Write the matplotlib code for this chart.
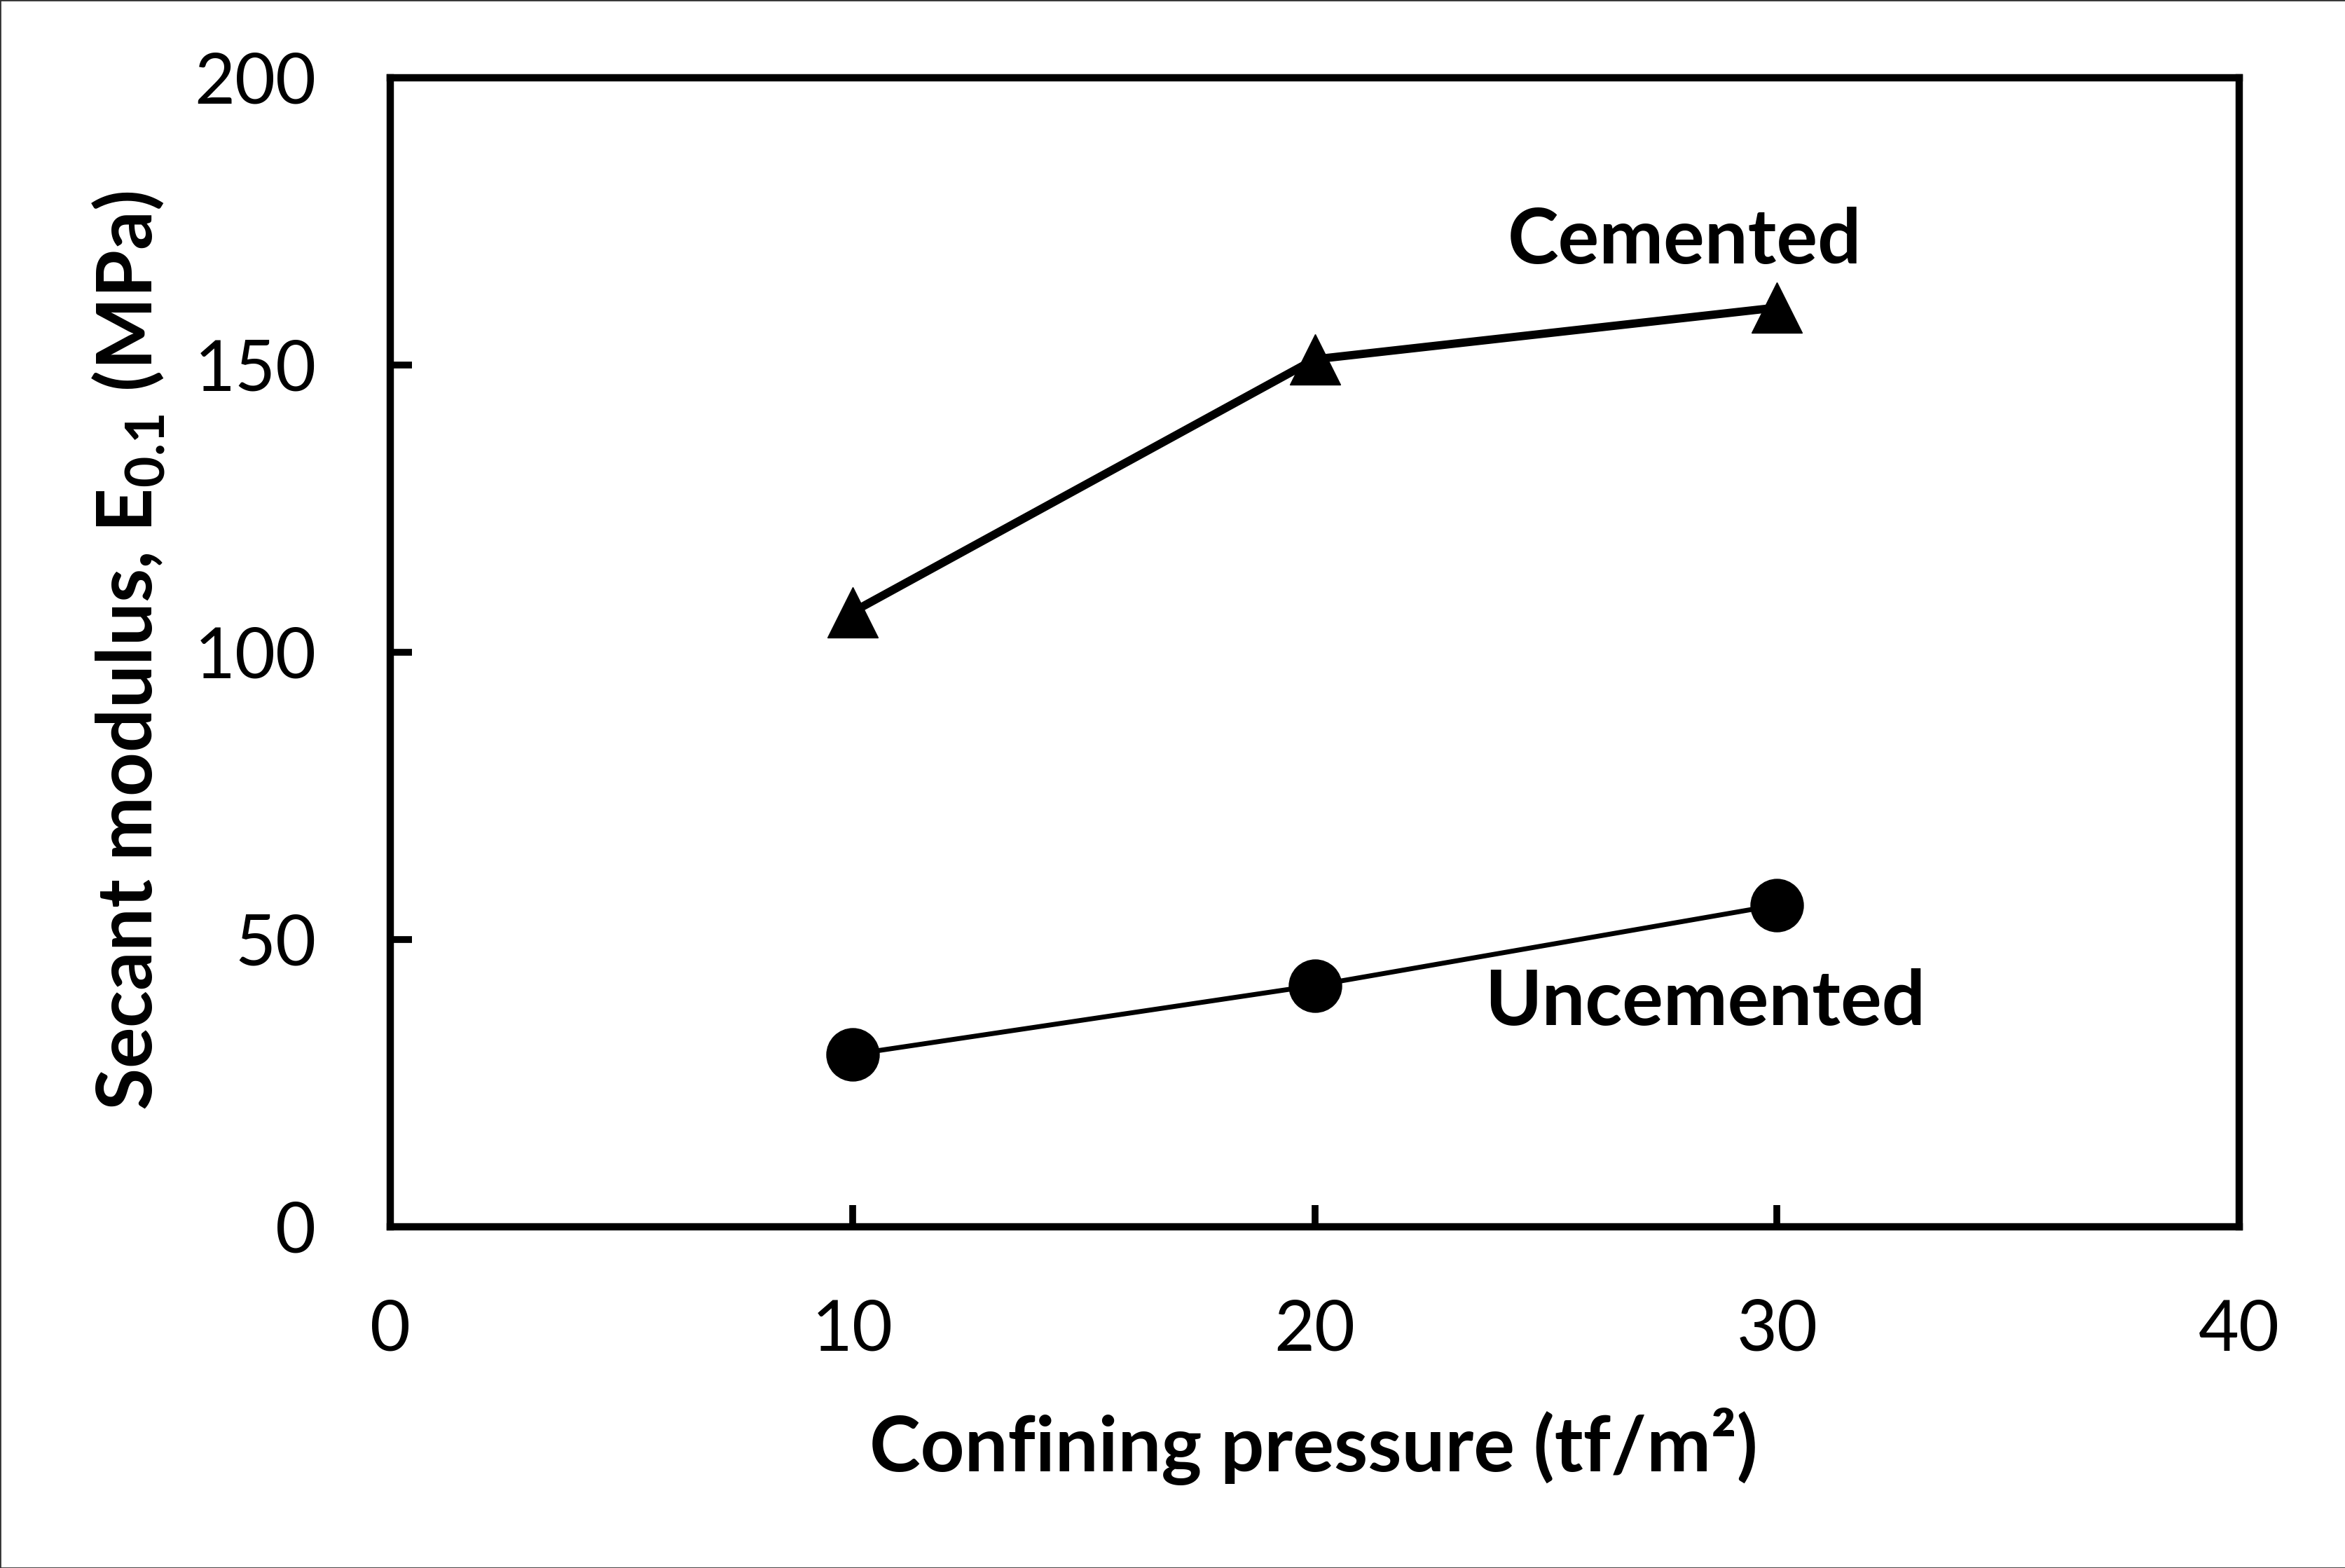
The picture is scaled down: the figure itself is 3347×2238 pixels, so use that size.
import matplotlib
matplotlib.use("Agg")
import matplotlib.pyplot as plt
from matplotlib.patches import Rectangle

# Datos
presion = [10, 20, 30]
modulo_cementado = [107, 151, 160]
modulo_no_cementado = [30, 42, 56]

xticks = [0, 10, 20, 30, 40]
yticks = [0, 50, 100, 150, 200]

plt.rcParams["font.family"] = ["Lato", "DejaVu Sans"]
plt.rcParams["mathtext.fontset"] = "custom"
plt.rcParams["mathtext.rm"] = "Lato"
plt.rcParams["mathtext.bf"] = "Lato:bold"

W, H = 3348, 2238
fig = plt.figure(figsize=(W / 100, H / 100), dpi=100)
ax = fig.add_axes([557 / W, 1 - 1751 / H, (3196 - 557) / W, (1751 - 111) / H])

# Series
ax.plot(presion, modulo_cementado, color="black", lw=8.5, marker="^", ms=52,
        solid_capstyle="butt", zorder=3)
ax.plot(presion, modulo_no_cementado, color="black", lw=5, marker="o", ms=54,
        zorder=3)

ax.text(28.0, 171.5, "Cemented", fontsize=79, fontweight="bold", ha="center", va="center")
ax.text(28.45, 39.0, "Uncemented", fontsize=79, fontweight="bold", ha="center", va="center")

ax.set_xlim(0, 40)
ax.set_ylim(0, 200)
ax.set_xticks(xticks)
ax.set_yticks(yticks)
ax.tick_params(axis="x", direction="in", length=22, width=7, pad=74, labelsize=72)
ax.tick_params(axis="y", direction="in", length=22, width=7, pad=76, labelsize=72)
for s in ax.spines.values():
    s.set_linewidth(7.5)

fig.text(1875 / W, 1 - 2064 / H, "Confining pressure (tf/m²)", fontsize=79,
         fontweight="bold", ha="center", va="center")
fig.text(184 / W, 1 - 929 / H, r"Secant modulus, E$_{\mathregular{0.1}}$ (MPa)",
         fontsize=79, fontweight="bold", ha="center", va="center", rotation=90)

# Borde de la figura
fig.patches.append(Rectangle((0, 0), 1, 1, transform=fig.transFigure, fill=False,
                             edgecolor="#333333", lw=2))

fig.savefig("out.png", dpi=100)
